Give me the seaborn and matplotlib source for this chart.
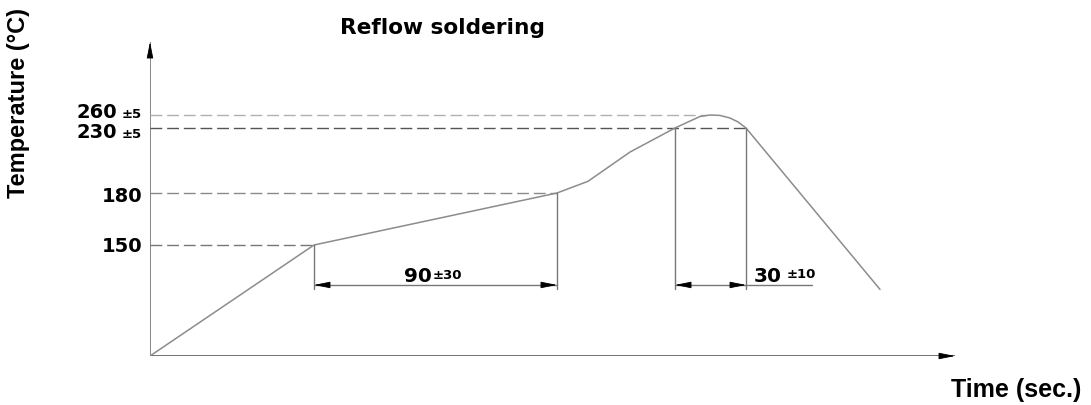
import numpy as np
import matplotlib
matplotlib.use("Agg")
import matplotlib.pyplot as plt
import matplotlib.transforms as mtransforms
import seaborn as sns
import pandas as pd

# ---------------- data ----------------
profile_time = [0, 164, 407, 438, 480, 525, 540, 550, 560, 570, 580, 588, 596, 730]
profile_temp = [25, 150, 180, 189, 211.5, 230, 246, 256.5, 260, 259, 253, 244, 230, 100]

level_temps = [150, 180, 230, 260]
level_labels = ["150", "180", "230", "260"]
level_tols = ["", "", "±5", "±5"]
level_ends = [164, 407, 596, 556]          # time where each dashed guide stops
level_colors = ["#777777", "#8a8a8a", "#555555", "#b0b0b0"]

soak_span = [164, 407]       # 90 ±30
peak_span = [525, 596]       # 30 ±10
soak_text = ["90", "±30"]
peak_text = ["30", "±10"]

title = "Reflow soldering"
xlabel = "Time (sec.)"
ylabel = "Temperature (°C)"

# schematic (non-linear) temperature axis
T_anchor = [-500, 25, 150, 180, 230, 260, 800]
L_anchor = [-525, 0, 111, 163, 228, 241, 781]

def fwd(t):
    return np.interp(t, T_anchor, L_anchor)

def inv(l):
    return np.interp(l, L_anchor, T_anchor)

# ---------------- figure ----------------
sns.set_style("white")
plt.rcParams["font.family"] = ["Liberation Sans", "DejaVu Sans"]
plt.rcParams["font.weight"] = "bold"
plt.rcParams["text.color"] = "black"
NUM = ["DejaVu Sans"]
LAB = ["Liberation Sans", "DejaVu Sans"]

fig = plt.figure(figsize=(10.91, 4.05), dpi=100)
ax = fig.add_axes([150 / 1091, 49 / 405, 941 / 1091, 356 / 405])
ax.set_yscale("function", functions=(fwd, inv))
ax.set_xlim(0, 941)
ax.set_ylim(25, 375)
ax.axis("off")

axis_col = "#666666"
line_col = "#8c8c8c"
x_end = 805
y_top = 333

# axes arrows
ax.plot([0, x_end], [25, 25], color=axis_col, lw=1.3, solid_capstyle="butt")
ax.plot([0, 0], [25, y_top], color=axis_col, lw=1.1, solid_capstyle="butt")

def head(xy, dx, dy):
    ax.annotate("", xy=xy, xytext=(dx, dy), textcoords="offset pixels",
                arrowprops=dict(arrowstyle="-|>,head_length=1.0,head_width=0.2",
                                color="black", lw=0.6, shrinkA=0, shrinkB=0,
                                mutation_scale=10))

head((x_end, 25), -15, 0)
head((0, y_top), 0, -15)

# dashed guides
for T, xe, c in zip(level_temps, level_ends, level_colors):
    ax.plot([0, xe], [T, T], color=c, lw=1.0, linestyle=(0, (8.5, 3.5)))

# profile
df = pd.DataFrame({"time": profile_time, "temp": profile_temp})
sns.lineplot(data=df, x="time", y="temp", ax=ax, color=line_col, lw=1.1,
             sort=False, estimator=None)

# extension lines and dimension arrows
dim_T = 105
ext_T = 100
for x0, T0 in [(soak_span[0], 150), (soak_span[1], 180),
               (peak_span[0], 230), (peak_span[1], 230)]:
    ax.plot([x0, x0], [T0, ext_T], color="#777777", lw=1.0)

for a, b in [soak_span, peak_span]:
    ax.plot([a, b], [dim_T, dim_T], color="#777777", lw=1.0)
    head((a, dim_T), 15, 0)
    head((b, dim_T), -15, 0)
ax.plot([peak_span[1], peak_span[1] + 66], [dim_T, dim_T], color="#777777", lw=1.0)

def shift(dots):
    return mtransforms.offset_copy(ax.transData, fig=fig, x=0, y=dots, units="dots")

mid = (soak_span[0] + soak_span[1]) / 2
ax.text(mid - 3.5, dim_T, soak_text[0], ha="right", va="baseline", fontsize=14.5,
        fontweight="bold", family=NUM, color="black", transform=shift(3))
ax.text(mid - 2.5, dim_T, soak_text[1], ha="left", va="baseline", fontsize=9.5,
        fontweight="bold", family=NUM, color="black", transform=shift(6))
ax.text(peak_span[1] + 36, dim_T, peak_text[0], ha="right", va="baseline", fontsize=14.5,
        fontweight="bold", family=NUM, color="black", transform=shift(3))
ax.text(peak_span[1] + 41, dim_T, peak_text[1], ha="left", va="baseline", fontsize=9.5,
        fontweight="bold", family=NUM, color="black", transform=shift(7))

# y level labels (baseline offsets in pixels)
offs = [-7, -8.5, -10, -3]
for T, lab, tol, o in zip(level_temps, level_labels, level_tols, offs):
    if tol:
        ax.text(-33, T, lab, ha="right", va="baseline", fontsize=14,
                fontweight="bold", family=NUM, color="black", transform=shift(o))
        ax.text(-28, T, tol, ha="left", va="baseline", fontsize=9.5,
                fontweight="bold", family=NUM, color="black", transform=shift(o - 0.5))
    else:
        ax.text(-8, T, lab, ha="right", va="baseline", fontsize=14,
                fontweight="bold", family=NUM, color="black", transform=shift(o))

fig.text(442 / 1091, 1 - 34 / 405, title, ha="center", va="baseline", fontsize=15.6,
         fontweight="bold", family=NUM, color="black")
fig.text(1016 / 1091, 1 - 397 / 405, xlabel, ha="center", va="baseline", fontsize=18,
         fontweight="bold", family=LAB, color="black")
fig.text(19 / 1091, 1 - 103 / 405, ylabel, ha="center", va="center", rotation=90,
         fontsize=17, fontweight="bold", family=LAB, color="black")

fig.savefig("out.png", dpi=100)
